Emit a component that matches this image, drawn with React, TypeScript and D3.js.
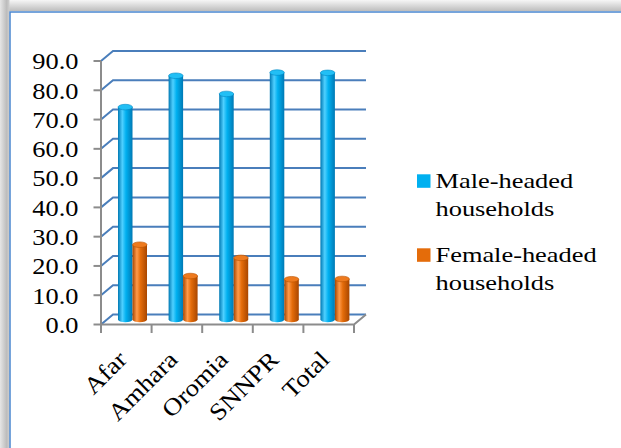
import React from "react";
import * as d3 from "d3";

// Share of households by sex of head, per region
const categories = ["Afar", "Amhara", "Oromia", "SNNPR", "Total"];
const maleValues = [73.5, 84.2, 78.0, 85.3, 85.2];
const femaleValues = [26.5, 15.8, 22.0, 14.7, 14.8];
const yTicks = [0, 10, 20, 30, 40, 50, 60, 70, 80, 90];
const seriesKeys = ["male", "female"];
const legendLines = [
  ["Male-headed", "households"],
  ["Female-headed", "households"],
];

const W = 621;
const H = 448;
const DX = 12; // depth offset of the 3D walls
const DY = -10;
const FONT = "Liberation Serif, Times New Roman, serif";

const COLORS: Record<string, { base: string; dark: string; light: string; top: string; edge: string }> = {
  male: { base: "#00b0f0", dark: "#0079b4", light: "#4fd0ff", top: "#22bff5", edge: "#0088c4" },
  female: { base: "#e46c0a", dark: "#a84600", light: "#ff9a4a", top: "#ee7a1e", edge: "#b85200" },
};

export default function App() {
  const y = d3.scaleLinear().domain([0, 90]).range([324.5, 61]);
  const x = d3.scaleBand<string>().domain(categories).range([101, 354]);
  const inner = d3.scaleBand<string>().domain(seriesKeys).range([11, 40]);
  const bw = inner.bandwidth();
  const ry = 2.8;

  const values: Record<string, number[]> = { male: maleValues, female: femaleValues };

  const cylinder = (key: string, i: number) => {
    const v = values[key][i];
    const x0 = (x(categories[i]) as number) + (inner(key) as number) + DX / 2;
    const x1 = x0 + bw;
    const cx = (x0 + x1) / 2;
    const rx = bw / 2;
    const topY = y(v) + DY / 2 + ry;
    const botY = y(0) + DY / 2;
    const body = `M${x0},${topY} L${x0},${botY} A${rx},${ry} 0 0 0 ${x1},${botY} L${x1},${topY} Z`;
    return (
      <g key={key + i}>
        <path d={body} fill={`url(#grad-${key})`} />
        <ellipse cx={cx} cy={topY} rx={rx} ry={ry} fill={COLORS[key].top} stroke={COLORS[key].edge} strokeWidth={0.6} />
      </g>
    );
  };

  const gridColor = "#4a7ebb";
  const axisColor = "#8c8c8c";

  return (
    <svg
      width={W}
      height={H}
      viewBox={`0 0 ${W} ${H}`}
      style={{ position: "absolute", left: 0, top: 0, display: "block" }}
    >
      <defs>
        <linearGradient id="shadow-top" x1="0" y1="0" x2="0" y2="1">
          <stop offset="0" stopColor="#f6f6f6" />
          <stop offset="1" stopColor="#bdbdbd" />
        </linearGradient>
        <linearGradient id="shadow-left" x1="0" y1="0" x2="1" y2="0">
          <stop offset="0" stopColor="#e6e6e6" />
          <stop offset="0.7" stopColor="#bcbcbc" />
          <stop offset="1" stopColor="#d0d0d0" />
        </linearGradient>
        {seriesKeys.map((k) => (
          <linearGradient key={k} id={`grad-${k}`} x1="0" y1="0" x2="1" y2="0">
            <stop offset="0" stopColor={COLORS[k].dark} />
            <stop offset="0.3" stopColor={COLORS[k].light} />
            <stop offset="0.55" stopColor={COLORS[k].base} />
            <stop offset="1" stopColor={COLORS[k].dark} />
          </linearGradient>
        ))}
      </defs>

      {/* frame with soft shadow */}
      <rect x={0} y={0} width={W} height={H} fill="#ffffff" />
      <rect x={0} y={0} width={W} height={11} fill="url(#shadow-top)" />
      <rect x={0} y={0} width={9.5} height={H} fill="url(#shadow-left)" />
      <rect x={10} y={12} width={W} height={H} fill="#ffffff" stroke="#4a86d0" strokeWidth={1.5} />

      {/* back-wall and side-wall gridlines */}
      {yTicks.map((t) => (
        <polyline
          key={"g" + t}
          points={`${x.range()[0]},${y(t)} ${x.range()[0] + DX},${y(t) + DY} ${x.range()[1] + DX},${y(t) + DY}`}
          fill="none"
          stroke={gridColor}
          strokeWidth={2}
        />
      ))}

      {/* floor edges */}
      <polyline
        points={`${x.range()[0]},${y(0)} ${x.range()[1]},${y(0)} ${x.range()[1] + DX},${y(0) + DY}`}
        fill="none"
        stroke={axisColor}
        strokeWidth={2}
      />

      {/* value axis */}
      <line x1={101} x2={101} y1={y(90)} y2={333} stroke={axisColor} strokeWidth={2} />
      {yTicks.map((t) => (
        <line key={"yt" + t} x1={93.5} x2={101} y1={y(t)} y2={y(t)} stroke={axisColor} strokeWidth={2} />
      ))}
      {yTicks.map((t) => (
        <g key={"yl" + t} transform={`translate(78.5,${y(t) + 8.3}) scale(1.1,1)`}>
          <text textAnchor="end" fontFamily={FONT} fontSize={24} fill="#000">
            {d3.format(".1f")(t)}
          </text>
        </g>
      ))}

      {/* category ticks */}
      {[...categories.map((c) => x(c) as number), x.range()[1]].map((px, i) => (
        <line key={"xt" + i} x1={px} x2={px} y1={y(0)} y2={333} stroke={axisColor} strokeWidth={2} />
      ))}

      {/* cylinders */}
      {categories.map((_, i) => seriesKeys.map((k) => cylinder(k, i)))}

      {/* category labels */}
      {categories.map((c) => {
        const ax = (x(c) as number) + x.bandwidth() / 2 + 2;
        const ay = 361;
        return (
          <g key={"xl" + c} transform={`translate(${ax},${ay}) rotate(-45) scale(1.12,1)`}>
            <text textAnchor="end" fontFamily={FONT} fontSize={24} fill="#000">
              {c}
            </text>
          </g>
        );
      })}

      {/* legend */}
      {seriesKeys.map((k, i) => {
        const top = 174.3 + i * 74;
        return (
          <g key={"lg" + k}>
            <rect x={417} y={top} width={13.5} height={13.5} fill={COLORS[k].base} />
            {legendLines[i].map((line, j) => (
              <g key={j} transform={`translate(435.5,${top + 13.8 + j * 28.3}) scale(1.2,1)`}>
                <text fontFamily={FONT} fontSize={22} fill="#000">
                  {line}
                </text>
              </g>
            ))}
          </g>
        );
      })}
    </svg>
  );
}
